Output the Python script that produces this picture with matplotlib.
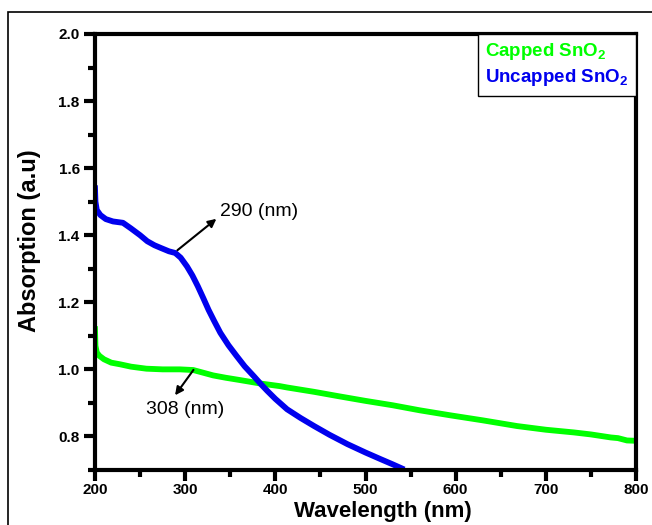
import matplotlib.pyplot as plt
from matplotlib.patches import Rectangle
from matplotlib.ticker import MultipleLocator

plt.rcParams['font.family'] = ['Liberation Sans', 'DejaVu Sans']
plt.rcParams['mathtext.fontset'] = 'custom'
plt.rcParams['mathtext.rm'] = 'Liberation Sans'
plt.rcParams['mathtext.bf'] = 'Liberation Sans:bold'

# Espectro sin recubrimiento (Uncapped SnO2)
wl_uncapped = [200, 200.5, 202, 206, 212, 220, 231, 240, 250, 258, 266, 273, 282, 289,
               295, 302, 308, 314, 320, 326, 332, 339, 348, 357, 366, 376, 385, 391,
               400, 413, 428, 443, 460, 480, 500, 517, 530, 540]
abs_uncapped = [1.54, 1.50, 1.475, 1.46, 1.448, 1.441, 1.437, 1.42, 1.40, 1.382, 1.37,
                1.362, 1.352, 1.347, 1.333, 1.307, 1.28, 1.248, 1.213, 1.177, 1.145,
                1.109, 1.072, 1.040, 1.009, 0.980, 0.953, 0.936, 0.912, 0.881, 0.855,
                0.831, 0.805, 0.777, 0.752, 0.732, 0.717, 0.705]

# Espectro con recubrimiento (Capped SnO2)
wl_capped = [200, 200.5, 202, 205, 210, 218, 228, 240, 257, 275, 294, 309, 320, 331,
             345, 361, 383, 405, 413, 443, 470, 500, 530, 560, 594, 606, 630, 668,
             700, 731, 750, 772, 780, 790, 800]
abs_capped = [1.12, 1.07, 1.05, 1.04, 1.03, 1.02, 1.015, 1.008, 1.002, 1.0, 1.0, 0.998,
              0.99, 0.982, 0.975, 0.968, 0.958, 0.950, 0.946, 0.933, 0.920, 0.906,
              0.893, 0.878, 0.863, 0.858, 0.848, 0.831, 0.820, 0.812, 0.806, 0.797,
              0.795, 0.788, 0.787]

labels = [r'Capped SnO$_\mathbf{2}$', r'Uncapped SnO$_\mathbf{2}$']
colors = ['#00ff00', '#0000ee']

fig = plt.figure(figsize=(6.52, 5.25), dpi=100)
ax = fig.add_axes([0.1457, 0.1048, 0.8298, 0.8305])

ax.plot(wl_capped, abs_capped, color=colors[0], lw=4.2, label=labels[0])
ax.plot(wl_uncapped, abs_uncapped, color=colors[1], lw=4.2, label=labels[1])

ax.set_xlim(200, 800)
ax.set_ylim(0.7, 2.0)
ax.xaxis.set_major_locator(MultipleLocator(100))
ax.xaxis.set_minor_locator(MultipleLocator(50))
ax.yaxis.set_major_locator(MultipleLocator(0.2))
ax.yaxis.set_minor_locator(MultipleLocator(0.1))
ax.yaxis.set_major_formatter(plt.FormatStrFormatter('%.1f'))

for s in ax.spines.values():
    s.set_linewidth(3)
ax.tick_params(which='major', direction='out', length=8, width=3, pad=3,
               labelsize=11, top=False, right=False)
ax.tick_params(axis='x', which='major', pad=1.5)
ax.tick_params(which='minor', direction='out', length=5, width=3,
               top=False, right=False)
for lab in ax.get_xticklabels() + ax.get_yticklabels():
    lab.set_fontweight('bold')

ax.set_xlabel('Wavelength (nm)', fontsize=16, fontweight='bold')
ax.set_ylabel('Absorption (a.u)', fontsize=17, fontweight='bold')
ax.xaxis.set_label_coords(0.532, -0.108)
ax.xaxis.label.set_va('baseline')
ax.yaxis.set_label_coords(-0.10, 0.527)

# Anotaciones de los picos
ax.annotate('', xy=(337, 1.454), xytext=(289, 1.350),
            arrowprops=dict(arrowstyle='-|>', lw=1.5, color='black', mutation_scale=12))
ax.text(339, 1.471, '290 (nm)', fontsize=14, va='center', ha='left')
ax.annotate('', xy=(287, 0.916), xytext=(311, 1.005),
            arrowprops=dict(arrowstyle='-|>', lw=1.5, color='black', mutation_scale=12))
ax.text(257, 0.881, '308 (nm)', fontsize=14, va='center', ha='left')

leg = ax.legend(loc='upper right', borderaxespad=0, handlelength=0, handletextpad=0,
                fancybox=False, edgecolor='black', framealpha=1,
                prop={'weight': 'bold', 'size': 13.5}, labelspacing=0.25,
                borderpad=0.4)
leg.get_frame().set_linewidth(1)
for h in leg.legend_handles:
    h.set_visible(False)
for t, c in zip(leg.get_texts(), colors):
    t.set_color(c)

# Marco exterior de la figura
fig.add_artist(Rectangle((8 / 652, -0.1), 1.2, 1.1 - 12 / 525, transform=fig.transFigure,
                         fill=False, edgecolor='black', lw=1.2))

plt.savefig('out.png', dpi=100)
